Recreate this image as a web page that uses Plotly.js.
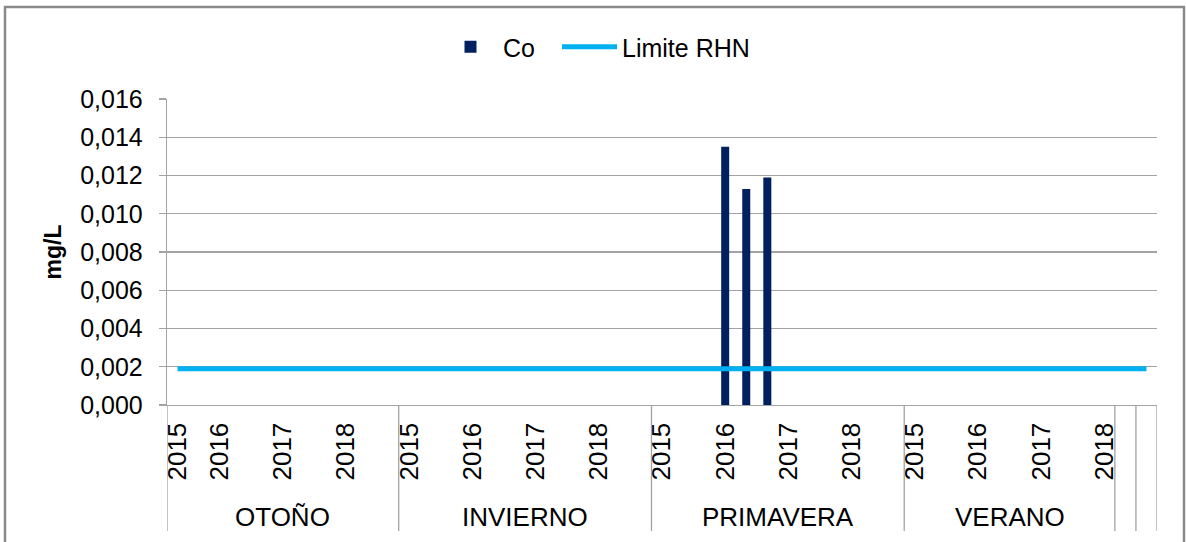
<!DOCTYPE html>
<html>
<head>
<meta charset="utf-8">
<script src="https://cdn.plot.ly/plotly-3.0.1.min.js"></script>
<style>html,body{margin:0;padding:0;background:#fff;}#chart{width:1186px;height:542px;}</style>
</head>
<body>
<div id="chart"></div>
<script>
// ---- data ----
const seasons = ['OTOÑO', 'INVIERNO', 'PRIMAVERA', 'VERANO', '', ''];
const samplesPerSeason = [11, 12, 12, 10, 1, 1];
const years = ['2015', '2016', '2017', '2018'];
const yearFirstSample = [[0, 2, 5, 8], [0, 3, 6, 9], [0, 3, 6, 9], [0, 3, 6, 9], [], []];
const coSeasonIndex = 2;            // PRIMAVERA
const coSamples = [3, 4, 5];        // 2016 samples
const coValues = [0.0135, 0.0113, 0.0119];
const limiteRHN = 0.0019;

// ---- build categories ----
const catId = (k, i) => 'S' + k + '-' + i;
const categories = [];
seasons.forEach((s, k) => { for (let i = 0; i < samplesPerSeason[k]; i++) categories.push(catId(k, i)); });
const tickvals = [], ticktext = [];
yearFirstSample.forEach((arr, k) => arr.forEach((i, j) => { tickvals.push(catId(k, i)); ticktext.push(years[j]); }));

const FONT = '"Liberation Sans", Arial, sans-serif';
const GRID = '#a3a3a3';

// plot area in pixels: left 167, right 1157, top 99, bottom 405
const plotH = 306;
const py = (pix) => (405 - pix) / plotH;
const px = (pix) => (pix - 167) / 990;

// separators & season labels
const shapes = [];
const annotations = [];
let start = 0;
shapes.push({type: 'line', xref: 'x', yref: 'paper', x0: -0.5, x1: -0.5, y0: 0, y1: py(531), line: {color: GRID, width: 1.3}});
seasons.forEach((s, k) => {
  const end = start + samplesPerSeason[k];
  shapes.push({type: 'line', xref: 'x', yref: 'paper', x0: end - 0.5, x1: end - 0.5, y0: 0, y1: py(531), line: {color: GRID, width: 1.3}});
  if (s) annotations.push({xref: 'x', yref: 'paper', x: (start + end - 1) / 2, y: py(517), text: s, showarrow: false,
    font: {family: FONT, size: 26, color: '#000'}, xanchor: 'center', yanchor: 'middle'});
  start = end;
});
// outer frame
shapes.push({type: 'rect', xref: 'paper', yref: 'paper', x0: px(5), x1: px(1184), y0: py(548), y1: py(7),
  line: {color: '#8a8a8a', width: 2.5}, fillcolor: 'rgba(0,0,0,0)', layer: 'below'});

const traces = [
  {type: 'bar', name: 'Co', x: coSamples.map(i => catId(coSeasonIndex, i)), y: coValues,
   marker: {color: '#002060'}, width: 0.38, legend: 'legend'},
  {type: 'scatter', mode: 'lines', name: 'Limite RHN', x: categories, y: categories.map(() => limiteRHN),
   line: {color: '#00B0F0', width: 5}, legend: 'legend2'}
];

const legendBase = {orientation: 'h', xanchor: 'left', y: py(47), yanchor: 'middle',
  font: {family: FONT, size: 25, color: '#000'}, itemwidth: 55, bgcolor: 'rgba(0,0,0,0)'};

const layout = {
  width: 1186, height: 542,
  margin: {l: 167, r: 29, t: 99, b: 137, pad: 0},
  paper_bgcolor: '#fff', plot_bgcolor: '#fff',
  separators: ',.',
  font: {family: FONT, size: 24, color: '#000'},
  showlegend: true,
  legend: Object.assign({}, legendBase, {x: px(438)}),
  legend2: Object.assign({}, legendBase, {x: px(557)}),
  xaxis: {type: 'category', categoryorder: 'array', categoryarray: categories, range: [-0.5, categories.length - 0.5],
    tickmode: 'array', tickvals: tickvals, ticktext: ticktext, tickangle: -90, ticks: '', showgrid: false,
    showline: true, linecolor: GRID, linewidth: 1.3, zeroline: false, ticklabelstandoff: 6,
    tickfont: {family: FONT, size: 26, color: '#000'}, fixedrange: true},
  yaxis: {range: [0, 0.016], dtick: 0.002, tick0: 0, tickformat: '.3f', ticks: 'outside', ticklen: 7, tickcolor: GRID,
    tickwidth: 1.3, showline: true, linecolor: GRID, linewidth: 1.3, showgrid: true, gridcolor: GRID, gridwidth: 1.3,
    zeroline: false, ticklabelstandoff: 11, tickfont: {family: FONT, size: 25, color: '#000'},
    title: {text: '<b>mg/L</b>', font: {family: FONT, size: 23, color: '#000'}, standoff: 12}, fixedrange: true},
  shapes: shapes,
  annotations: annotations
};

Plotly.newPlot('chart', traces, layout, {displayModeBar: false, staticPlot: true});
</script>
</body>
</html>
